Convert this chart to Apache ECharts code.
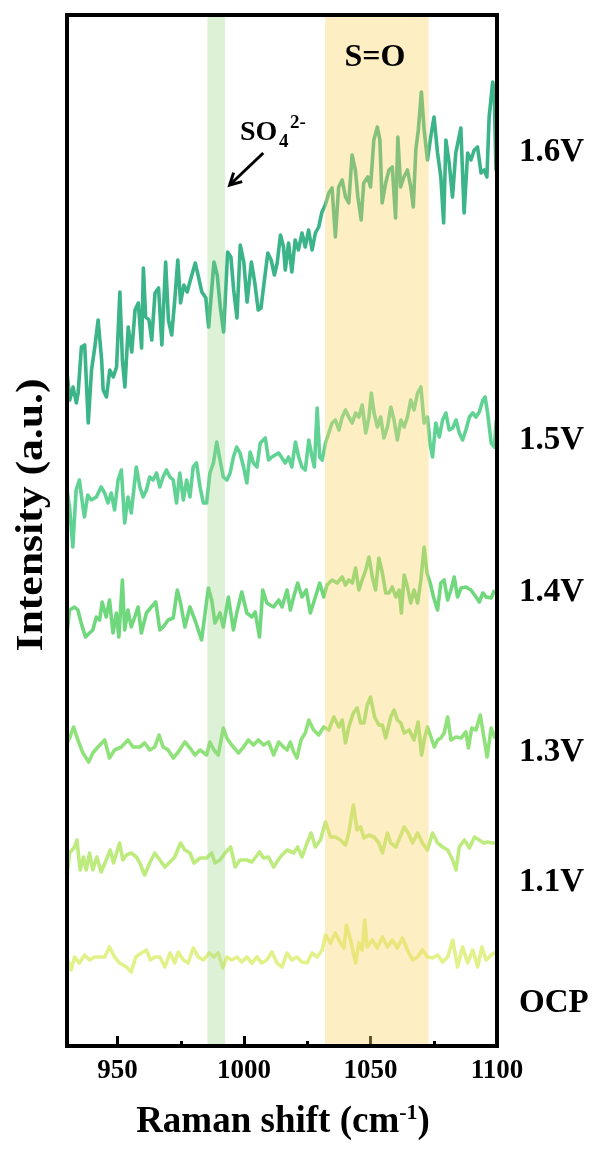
<!DOCTYPE html>
<html><head><meta charset="utf-8">
<script src="https://cdn.jsdelivr.net/npm/echarts@6/dist/echarts.min.js"></script>
<style>html,body{margin:0;padding:0;background:#fff}#c{width:609px;height:1151px}</style>
</head><body><div id="c"></div><script>
// Raman shift (cm-1) vs intensity (a.u., offset stacked as in figure)
const seriesNames = ['1.6V','1.5V','1.4V','1.3V','1.1V','OCP'];
const seriesColors = ['#3ab488','#5fd294','#6fd87c','#8fe179','#bdeb7e','#e2f189'];
const labelLevels = [894, 606, 454, 294, 164, 43];
const xTickValues = [950, 1000, 1050, 1100];
const xMinorTicks = [975, 1025, 1075];
const bandRanges = [[985.5, 992.5], [1032, 1073]];

const s16 = [[930.0,613],[930.2,669],[931.1,646],[932.4,659],[933.7,643],[934.4,653],[935.7,699],[937.0,701],[938.4,623],[939.7,676],[941.0,699],[942.3,726],[943.7,686],[944.3,656],[945.6,649],[946.9,676],[948.3,669],[949.6,679],[950.9,754],[951.9,686],[952.9,659],[954.2,719],[955.6,694],[956.9,736],[958.2,743],[959.5,698],[960.2,778],[961.1,729],[962.4,726],[963.5,706],[964.8,753],[966.2,758],[967.5,701],[969.0,784],[970.1,726],[971.4,711],[972.7,749],[973.8,786],[974.9,743],[976.2,761],[977.5,754],[978.8,766],[980.7,783],[982.0,769],[983.3,754],[984.9,748],[986.0,719],[988.1,784],[989.4,771],[990.6,739],[991.9,714],[993.5,794],[994.8,789],[995.9,756],[997.2,728],[998.5,801],[999.9,784],[1001.2,744],[1002.9,784],[1004.2,764],[1005.6,736],[1006.7,738],[1007.9,763],[1009.4,793],[1010.7,786],[1012.0,771],[1013.1,783],[1014.4,811],[1015.6,799],[1016.3,776],[1017.6,803],[1018.9,774],[1020.2,806],[1021.5,796],[1022.9,813],[1024.2,799],[1025.5,816],[1026.9,796],[1028.2,813],[1029.5,819],[1030.8,834],[1032.1,841],[1033.5,853],[1034.8,858],[1036.1,809],[1037.4,859],[1038.8,866],[1040.1,849],[1041.4,843],[1042.7,891],[1044.0,876],[1045.0,849],[1046.3,826],[1047.3,863],[1048.9,869],[1050.0,859],[1051.3,906],[1052.7,919],[1053.7,906],[1054.6,843],[1056.0,863],[1057.3,876],[1058.6,879],[1059.9,828],[1060.8,909],[1061.9,859],[1063.2,869],[1064.6,876],[1065.9,859],[1066.9,839],[1067.9,896],[1068.9,916],[1070.1,954],[1071.2,916],[1072.5,886],[1073.8,909],[1075.1,929],[1076.5,893],[1077.8,869],[1078.9,823],[1079.8,906],[1081.1,883],[1082.4,849],[1083.7,893],[1085.7,918],[1087.0,833],[1088.4,893],[1089.7,886],[1091.0,896],[1092.3,899],[1093.7,873],[1095.0,876],[1096.0,869],[1096.9,929],[1098.3,964],[1098.9,953],[1099.6,876],[1100.0,896]];

const s15 = [[930.0,556],[931.0,539],[932.3,499],[933.6,556],[934.9,566],[936.3,539],[936.9,529],[938.2,551],[939.6,546],[941.6,549],[943.5,559],[944.9,553],[946.2,543],[947.5,553],[948.8,536],[950.2,566],[951.5,576],[952.8,523],[954.1,549],[955.4,533],[957.4,579],[958.8,559],[960.1,549],[961.4,556],[962.7,569],[964.0,566],[965.4,573],[966.7,559],[968.0,569],[969.3,576],[970.7,569],[972.0,566],[973.3,543],[974.6,573],[976.0,546],[977.3,566],[978.6,549],[979.9,579],[981.2,583],[982.6,559],[983.9,543],[985.2,543],[986.5,573],[987.9,583],[989.2,604],[990.5,586],[991.8,569],[993.2,566],[994.5,573],[995.8,589],[997.1,599],[998.4,593],[999.8,579],[1001.1,563],[1002.4,594],[1003.7,583],[1005.1,579],[1006.4,603],[1008.4,608],[1009.7,586],[1011.0,589],[1012.3,591],[1013.7,593],[1015.0,588],[1016.3,583],[1017.6,589],[1018.9,579],[1020.3,604],[1021.6,589],[1022.9,579],[1024.2,576],[1025.6,606],[1026.9,589],[1027.8,579],[1028.9,638],[1029.9,589],[1030.9,586],[1032.2,603],[1033.5,613],[1034.8,623],[1036.1,626],[1037.5,616],[1038.8,629],[1040.1,636],[1041.4,629],[1042.8,623],[1044.1,633],[1045.4,629],[1046.7,641],[1048.1,613],[1049.4,629],[1050.3,653],[1051.4,633],[1052.7,619],[1054.0,629],[1055.3,608],[1056.7,619],[1058.0,639],[1059.3,626],[1060.6,606],[1062.0,626],[1063.3,619],[1064.6,629],[1065.9,646],[1067.2,636],[1068.6,653],[1069.9,659],[1071.2,623],[1072.5,629],[1073.6,601],[1074.5,589],[1075.8,623],[1077.2,609],[1078.5,626],[1079.8,633],[1081.1,616],[1082.5,618],[1083.8,626],[1085.1,613],[1086.4,606],[1087.7,616],[1089.1,629],[1090.4,633],[1091.7,629],[1093.0,634],[1094.4,646],[1095.3,649],[1096.3,633],[1097.7,603],[1099.0,599],[1099.7,626]];

const s14 = [[930.0,413],[931.0,436],[933.0,439],[934.3,436],[935.6,423],[937.3,409],[938.9,413],[940.2,416],[941.6,429],[942.9,426],[943.9,444],[945.5,429],[946.8,446],[948.2,413],[949.5,433],[950.5,409],[951.9,466],[952.8,416],[954.1,436],[955.4,419],[956.8,429],[958.1,439],[959.4,413],[961.4,433],[963.0,438],[965.1,444],[966.7,416],[968.0,419],[970.0,426],[972.0,428],[973.6,456],[974.9,443],[976.6,419],[978.6,439],[980.6,426],[983.2,406],[985.9,458],[987.2,446],[988.5,423],[990.5,433],[991.8,419],[993.8,449],[995.8,416],[997.1,433],[999.1,454],[1001.1,433],[1003.1,429],[1004.4,434],[1006.1,409],[1007.4,456],[1009.0,443],[1010.3,441],[1011.7,439],[1013.7,446],[1015.0,439],[1017.0,456],[1018.3,436],[1019.6,449],[1021.2,463],[1022.9,449],[1024.6,456],[1026.2,433],[1028.2,449],[1029.9,463],[1031.5,449],[1032.8,461],[1034.8,466],[1036.8,463],[1038.8,469],[1040.1,461],[1041.4,466],[1042.8,463],[1044.1,478],[1045.4,456],[1046.7,466],[1048.1,476],[1049.4,489],[1050.7,469],[1052.0,456],[1053.3,488],[1054.7,473],[1056.0,453],[1057.3,453],[1058.6,459],[1060.0,449],[1061.3,456],[1062.2,433],[1063.3,471],[1064.6,459],[1065.9,443],[1067.2,456],[1068.6,443],[1069.9,466],[1071.2,499],[1072.3,473],[1073.6,463],[1074.9,449],[1076.5,436],[1077.8,463],[1079.1,466],[1080.5,446],[1081.8,456],[1083.1,469],[1084.4,449],[1085.8,458],[1087.7,459],[1089.7,456],[1091.7,449],[1093.0,444],[1094.4,453],[1095.7,449],[1097.7,448],[1099.0,456]];

const s13 = [[930.0,303],[931.2,309],[932.6,319],[934.3,306],[936.3,293],[938.6,284],[940.2,293],[942.2,299],[944.9,306],[946.8,288],[948.8,296],[951.5,299],[954.1,306],[956.1,299],[958.8,299],[960.7,303],[962.7,296],[964.7,299],[966.4,311],[968.0,299],[970.0,296],[972.0,288],[974.0,294],[976.6,304],[978.6,298],[980.6,291],[982.6,296],[985.2,291],[986.5,304],[988.1,296],[989.8,291],[991.8,318],[993.2,308],[995.1,301],[997.8,293],[999.8,299],[1001.7,306],[1003.7,301],[1005.7,306],[1007.7,301],[1009.7,304],[1011.7,291],[1013.7,304],[1015.6,299],[1017.0,296],[1018.3,304],[1019.6,294],[1020.9,288],[1022.5,306],[1024.2,313],[1025.6,326],[1027.5,316],[1029.5,311],[1031.5,319],[1033.5,316],[1035.5,329],[1037.5,319],[1038.8,326],[1040.1,303],[1041.4,319],[1043.2,333],[1044.7,338],[1046.1,323],[1047.4,323],[1048.7,341],[1050.0,349],[1051.6,329],[1053.3,321],[1054.7,321],[1056.0,308],[1058.0,329],[1059.3,336],[1060.6,326],[1062.0,323],[1063.3,313],[1065.3,316],[1067.2,306],[1068.8,324],[1070.2,291],[1071.2,306],[1072.5,319],[1073.9,309],[1075.2,299],[1076.5,306],[1077.8,308],[1079.1,313],[1080.5,329],[1081.8,306],[1083.8,309],[1085.8,308],[1087.7,314],[1088.7,298],[1090.0,318],[1091.7,316],[1093.4,331],[1094.8,309],[1096.1,289],[1097.7,318],[1099.0,309],[1099.6,314]];

const s11 = [[930.0,169],[931.0,193],[933.0,199],[933.9,206],[935.2,176],[936.5,189],[937.6,176],[938.9,193],[940.2,176],[941.8,189],[943.5,174],[945.5,186],[947.1,196],[948.4,183],[950.8,203],[952.1,186],[953.5,191],[955.4,193],[957.4,189],[958.8,183],[960.7,171],[962.7,183],[964.7,193],[966.7,186],[968.7,179],[970.7,184],[972.6,189],[974.9,203],[976.6,196],[978.6,193],[980.2,183],[982.6,188],[985.2,188],[987.2,193],[988.5,183],[990.5,186],[992.5,193],[994.7,199],[996.5,179],[998.4,186],[1001.1,186],[1003.1,184],[1006.1,194],[1007.7,188],[1009.7,189],[1011.7,179],[1014.3,189],[1017.0,196],[1019.6,193],[1021.2,199],[1022.9,189],[1024.9,203],[1026.5,213],[1028.2,199],[1030.2,206],[1032.2,224],[1034.2,209],[1036.1,209],[1038.1,206],[1040.1,201],[1041.4,213],[1043.2,241],[1044.7,216],[1046.1,219],[1047.4,208],[1049.4,211],[1051.4,209],[1053.3,203],[1054.7,193],[1056.7,213],[1058.0,203],[1060.0,199],[1062.0,211],[1063.3,219],[1064.9,213],[1066.6,203],[1068.6,213],[1070.5,203],[1072.5,196],[1074.5,213],[1076.5,203],[1078.5,199],[1080.5,196],[1082.5,186],[1083.8,176],[1085.1,199],[1087.1,206],[1089.1,198],[1091.1,209],[1093.0,206],[1094.8,203],[1096.3,204],[1098.3,203],[1099.6,203]];

const sOCP = [[930.0,89],[931.6,76],[933.0,89],[934.9,83],[936.9,91],[938.9,86],[940.9,89],[942.9,89],[944.9,89],[946.8,99],[948.8,89],[950.8,83],[953.5,79],[955.4,74],[957.2,89],[959.4,93],[961.4,96],[963.0,86],[964.7,89],[966.7,89],[968.7,79],[970.7,93],[972.6,83],[974.0,94],[976.0,86],[977.9,83],[979.9,98],[981.9,89],[983.9,86],[986.3,93],[988.1,89],[989.8,93],[991.6,78],[993.2,89],[995.1,86],[997.1,89],[999.1,84],[1001.1,89],[1003.1,83],[1005.1,89],[1007.0,83],[1009.0,86],[1011.0,94],[1013.0,83],[1015.0,79],[1017.0,93],[1018.9,86],[1020.9,89],[1022.9,84],[1024.9,83],[1026.9,93],[1028.9,89],[1030.9,96],[1032.2,111],[1034.2,103],[1036.1,113],[1038.1,103],[1039.5,98],[1040.5,121],[1042.1,106],[1044.1,83],[1045.4,103],[1046.7,96],[1047.7,126],[1048.7,99],[1050.7,106],[1052.7,98],[1054.7,109],[1056.7,99],[1058.6,106],[1060.6,98],[1062.6,108],[1064.6,96],[1066.6,86],[1068.6,89],[1070.5,96],[1072.5,89],[1074.5,88],[1076.5,91],[1078.5,84],[1080.5,89],[1082.5,106],[1084.4,79],[1086.4,99],[1088.4,83],[1090.4,96],[1092.4,79],[1094.0,99],[1095.7,86],[1097.7,91],[1099.6,94]];

const allSeries = [s16, s15, s14, s13, s11, sOCP];
const serif = "'Liberation Serif','Times New Roman',serif";
const Y_MAX = 1031;

const chart = echarts.init(document.getElementById('c'), null, {renderer: 'canvas'});
const lineSeries = allSeries.map((d, i) => ({
  name: seriesNames[i], type: 'line', data: d, showSymbol: false, symbol: 'none',
  lineStyle: {color: seriesColors[i], width: 3.6, join: 'round'}, z: 2, silent: true, animation: false,
  xAxisIndex: 0, yAxisIndex: 0
}));
const bandFills = ['rgba(150,210,130,0.32)', 'rgba(250,213,105,0.40)'];
const bandSeries = {
  type: 'custom', z: 10, silent: true, animation: false,
  data: bandRanges.map((r, i) => [r[0], r[1], i]),
  encode: {x: [0, 1]},
  renderItem: (params, api) => {
    const p0 = api.coord([api.value(0), Y_MAX]);
    const p1 = api.coord([api.value(1), 0]);
    return {type: 'rect', shape: {x: p0[0], y: p0[1], width: p1[0] - p0[0], height: p1[1] - p0[1]},
            style: {fill: bandFills[api.value(2)]}};
  }
};

chart.setOption({
  animation: false,
  backgroundColor: '#fff',
  grid: {left: 67, right: 112, top: 15, bottom: 105, show: true, borderColor: '#000', borderWidth: 4, backgroundColor: 'transparent', z: 20},
  xAxis: [{
    type: 'value', min: 930, max: 1100,
    axisLine: {show: false},
    splitLine: {show: false},
    axisTick: {show: true, inside: true, length: 10, lineStyle: {color: '#000', width: 3}, customValues: xTickValues},
    axisLabel: {show: true, customValues: xTickValues, formatter: v => String(v), fontFamily: serif, fontWeight: 'bold', fontSize: 27, color: '#000', margin: 12}
  }, {
    type: 'value', min: 930, max: 1100, position: 'bottom',
    axisLine: {show: false}, splitLine: {show: false},
    axisTick: {show: true, inside: true, length: 5, lineStyle: {color: '#000', width: 3}, customValues: xMinorTicks},
    axisLabel: {show: false}
  }],
  yAxis: {type: 'value', min: 0, max: Y_MAX, show: true, axisLine: {show: false}, axisTick: {show: false}, axisLabel: {show: false}, splitLine: {show: false}},
  series: [...lineSeries, bandSeries]
});

// annotations
const g = [];
const Z = 100;
labelLevels.forEach((lv, i) => {
  const p = chart.convertToPixel({xAxisIndex: 0, yAxisIndex: 0}, [1100, lv]);
  g.push({type: 'text', z: Z, x: 519, y: p[1], style: {text: seriesNames[i], font: 'bold 33px ' + serif, fill: '#000', textVerticalAlign: 'middle', textAlign: 'left'}});
});
g.push({type: 'text', z: Z, x: 375, y: 58, style: {text: 'S=O', font: 'bold 32px ' + serif, fill: '#000', textAlign: 'center', textVerticalAlign: 'middle'}});
g.push({type: 'text', z: Z, x: 240, y: 133, style: {text: 'SO', font: 'bold 28px ' + serif, fill: '#000', textAlign: 'left', textVerticalAlign: 'middle'}});
g.push({type: 'text', z: Z, x: 279, y: 142, style: {text: '4', font: 'bold 19px ' + serif, fill: '#000', textAlign: 'left', textVerticalAlign: 'middle'}});
g.push({type: 'text', z: Z, x: 290, y: 123, style: {text: '2-', font: 'bold 19px ' + serif, fill: '#000', textAlign: 'left', textVerticalAlign: 'middle'}});
// arrow in data coordinates
const a0 = chart.convertToPixel({xAxisIndex: 0, yAxisIndex: 0}, [1007.6, 893]);
const a1 = chart.convertToPixel({xAxisIndex: 0, yAxisIndex: 0}, [994.3, 861]);
const ang = Math.atan2(a1[1] - a0[1], a1[0] - a0[0]);
const hl = 13, hw = 0.5;
const h1 = [a1[0] - hl * Math.cos(ang - hw), a1[1] - hl * Math.sin(ang - hw)];
const h2 = [a1[0] - hl * Math.cos(ang + hw), a1[1] - hl * Math.sin(ang + hw)];
g.push({type: 'polyline', z: Z, shape: {points: [a0, a1]}, style: {stroke: '#000', lineWidth: 3, fill: null}});
g.push({type: 'polyline', z: Z, shape: {points: [h1, a1, h2]}, style: {stroke: '#000', lineWidth: 3, fill: null, lineJoin: 'miter'}});
// axis titles
g.push({type: 'text', z: Z, x: 283, y: 1122, style: {
  text: '{t|Raman shift (cm}{s|-1}{t|)}', textAlign: 'center', textVerticalAlign: 'middle',
  rich: {t: {font: 'bold 37px ' + serif, fill: '#000', lineHeight: 40, verticalAlign: 'middle'},
         s: {font: 'bold 22px ' + serif, fill: '#000', lineHeight: 22, verticalAlign: 'top'}}
}});
g.push({type: 'text', z: Z, x: 32, y: 515, rotation: Math.PI / 2, scaleX: 1.15, style: {text: 'Intensity (a.u.)', font: 'bold 38px ' + serif, fill: '#000', textAlign: 'center', textVerticalAlign: 'middle'}});
chart.setOption({graphic: g});
</script></body></html>
